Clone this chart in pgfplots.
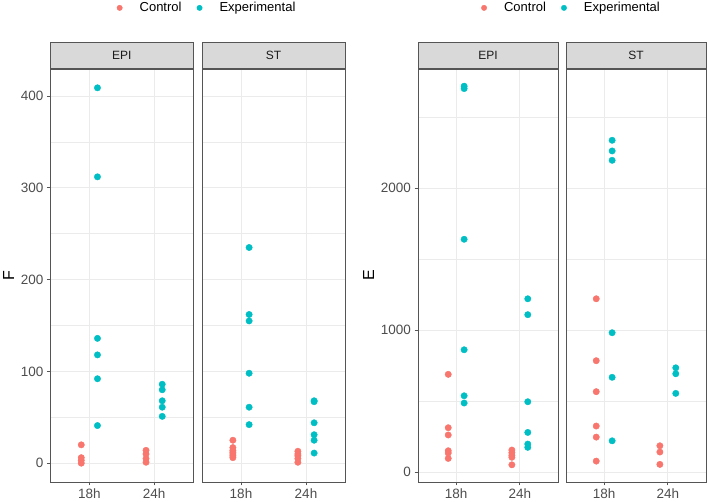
\documentclass[border=0pt]{standalone}
\usepackage{pgfplots}
\pgfplotsset{compat=1.18}
\usepackage{fontspec}
\setmainfont{Liberation Sans}
\definecolor{ctrl}{HTML}{F8766D}
\definecolor{expc}{HTML}{00BFC4}
\definecolor{gridc}{HTML}{EBEBEB}
\definecolor{borderc}{HTML}{555555}
\definecolor{striptext}{HTML}{1A1A1A}
\definecolor{ticklab}{HTML}{4D4D4D}
\definecolor{stripfill}{HTML}{D9D9D9}

\pgfplotsset{
  panel/.style={
    scale only axis, height=413pt,
    xmin=0.4, xmax=2.6, xtick={1,2}, xticklabels={18h,24h},
    axis line style={borderc, line width=0.8pt},
    grid=both,
    major grid style={gridc, line width=1pt},
    minor grid style={gridc, line width=0.6pt},
    tick align=outside, major tick length=3.5pt, minor tick length=0pt,
    tick style={borderc, line width=0.8pt},
    xtick pos=left, ytick pos=left,
    ticklabel style={font=\fontsize{13.5}{15}\selectfont, text=ticklab},
    /pgf/number format/assume math mode=true,
    /pgf/number format/1000 sep={},
    scaled y ticks=false,
    every axis title shift=0pt,
    title style={at={(0.5,1)}, anchor=south, yshift=0pt, fill=stripfill, draw=borderc,
      line width=0.8pt, minimum height=26pt, inner sep=0pt,
      text=striptext, font=\fontsize{12}{14}\selectfont},
    ylabel style={font=\fontsize{16}{18}\selectfont, text=black},
    legend style={draw=none, fill=none, legend columns=2,
      font=\fontsize{13}{15}\selectfont,
      /tikz/every even column/.append style={column sep=6pt}},
    legend image code/.code={\path[draw=none, fill=none] (-10pt,-3pt) rectangle (18pt,3pt);
      \draw[#1, mark size=2.7pt] plot coordinates {(0pt,0pt)};},
  },
  ctrlp/.style={only marks, mark=*, color=ctrl, mark size=3.2pt, mark options={fill=ctrl, draw=ctrl}},
  expp/.style={only marks, mark=*, color=expc, mark size=3.2pt, mark options={fill=expc, draw=expc}},
  fpanel/.style={panel, ymin=-20.5, ymax=429.5, ytick={0,100,200,300,400}, minor ytick={50,150,250,350}},
  epanel/.style={panel, ymin=-70, ymax=2838, ytick={0,1000,2000}, minor ytick={500,1500,2500}},
  rightpanel/.style={yticklabels={}, ytick style={draw=none}},
}

\begin{document}
\begin{tikzpicture}
\useasboundingbox (0,0) rectangle (708pt,502pt);

% ---------- F, EPI ----------
\begin{axis}[fpanel, at={(50.5pt,20pt)}, anchor=south west, width=142.5pt,
  title={EPI}, title style={minimum width=142.5pt}, ylabel={F},
  legend style={at={(1.074,1.148)}, anchor=center}]
\addplot[ctrlp] table {
x y
0.875 20
0.875 6
0.875 3
0.875 0
1.875 14
1.875 10
1.875 5
1.875 1
};
\addplot[expp] table {
x y
1.125 409
1.125 312
1.125 136
1.125 118
1.125 92
1.125 41
2.125 86
2.125 80
2.125 68
2.125 61
2.125 51
};
\legend{Control, Experimental}
\end{axis}

% ---------- F, ST ----------
\begin{axis}[fpanel, rightpanel, at={(202pt,20pt)}, anchor=south west, width=143pt,
  title={ST}, title style={minimum width=143pt}]
\addplot[ctrlp] table {
x y
0.875 25
0.875 17
0.875 14
0.875 12
0.875 10
0.875 8
0.875 6
1.875 13
1.875 10
1.875 8
1.875 5
1.875 1
};
\addplot[expp] table {
x y
1.125 235
1.125 162
1.125 155
1.125 98
1.125 61
1.125 42
2.125 68
2.125 67
2.125 44
2.125 31
2.125 25
2.125 11
};
\end{axis}

% ---------- E, EPI ----------
\begin{axis}[epanel, at={(418pt,20pt)}, anchor=south west, width=140pt,
  title={EPI}, title style={minimum width=140pt}, ylabel={E},
  legend style={at={(1.071,1.148)}, anchor=center}]
\addplot[ctrlp] table {
x y
0.875 688
0.875 312
0.875 261
0.875 150
0.875 134
0.875 96
1.875 155
1.875 136
1.875 118
1.875 104
1.875 51
};
\addplot[expp] table {
x y
1.125 2717
1.125 2700
1.125 1639
1.125 861
1.125 537
1.125 486
2.125 1220
2.125 1108
2.125 495
2.125 279
2.125 197
2.125 174
};
\legend{Control, Experimental}
\end{axis}

% ---------- E, ST ----------
\begin{axis}[epanel, rightpanel, at={(566pt,20pt)}, anchor=south west, width=140pt,
  title={ST}, title style={minimum width=140pt}]
\addplot[ctrlp] table {
x y
0.875 1220
0.875 784
0.875 566
0.875 324
0.875 246
0.875 77
1.875 185
1.875 141
1.875 54
};
\addplot[expp] table {
x y
1.125 2336
1.125 2261
1.125 2195
1.125 981
1.125 667
1.125 220
2.125 734
2.125 692
2.125 554
};
\end{axis}
\end{tikzpicture}
\end{document}
